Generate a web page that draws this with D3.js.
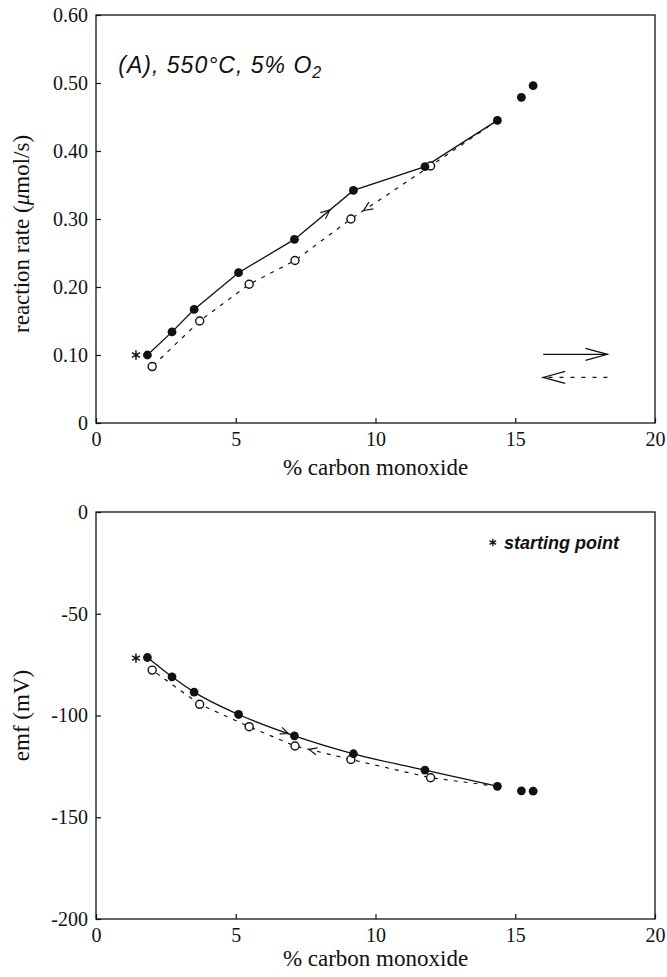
<!DOCTYPE html>
<html>
<head>
<meta charset="utf-8">
<script src="https://cdn.jsdelivr.net/npm/d3@7"></script>
<style>
  body { margin: 0; background: #fff; }
  svg { display: block; }
  .tick text { font-family: "Liberation Serif", "Times New Roman", serif; font-size: 20px; fill: #111; }
  .tick line { stroke: #111; stroke-width: 1.2; }
  .axis-title { font-family: "Liberation Serif", "Times New Roman", serif; font-size: 23px; fill: #111; }
  .note { font-family: "Liberation Sans", Arial, sans-serif; fill: #111; font-style: italic; }
</style>
</head>
<body>
<svg id="chart"></svg>
<script>
// % CO, increasing run (filled points, solid line)
var coUp = [1.84, 2.72, 3.51, 5.1, 7.1, 9.21, 11.77, 14.36];
var rateUp = [0.100, 0.134, 0.167, 0.221, 0.270, 0.342, 0.377, 0.445];
var emfUp = [-71.5, -81, -88.5, -99.5, -110, -118.8, -126.8, -134.8];

// % CO, decreasing run (open points, dashed line), starts from last filled point
var coDown = [11.97, 9.12, 7.12, 5.48, 3.71, 2.01];
var rateDown = [0.378, 0.300, 0.239, 0.204, 0.150, 0.083];
var emfDown = [-130.6, -121.6, -115, -105.5, -94.5, -77.7];

// two unconnected filled points at high CO
var coExtra = [15.22, 15.64];
var rateExtra = [0.479, 0.496];
var emfExtra = [-137, -137.2];

// starting point (asterisk)
var startCo = 1.43;
var startRate = 0.10;
var startEmf = -71.8;

var xTicks = [0, 5, 10, 15, 20];
var rateTicks = [0, 0.1, 0.2, 0.3, 0.4, 0.5, 0.6];
var emfTicks = [0, -50, -100, -150, -200];

var W = 667, H = 977;
var svg = d3.select('#chart').attr('width', W).attr('height', H);

var x = d3.scaleLinear().domain([0, 20]).range([96, 655]);
var yRate = d3.scaleLinear().domain([0, 0.6]).range([423, 15]);
var yEmf = d3.scaleLinear().domain([-200, 0]).range([919, 512]);

var ink = '#111';

function frame(y) {
  var r = y.range();
  svg.append('rect')
    .attr('x', x(0)).attr('y', r[1])
    .attr('width', x(20) - x(0)).attr('height', r[0] - r[1])
    .attr('fill', 'none').attr('stroke', ink).attr('stroke-width', 1.3);
}

function axes(y, yTicks, yFmt) {
  var xa = svg.append('g')
    .attr('transform', 'translate(0,' + y.range()[0] + ')')
    .call(d3.axisBottom(x).tickValues(xTicks).tickSizeInner(-5).tickSizeOuter(0).tickPadding(9).tickFormat(String));
  xa.select('.domain').remove();
  var ya = svg.append('g')
    .attr('transform', 'translate(' + x(0) + ',0)')
    .call(d3.axisLeft(y).tickValues(yTicks).tickSizeInner(-5).tickSizeOuter(0).tickPadding(8).tickFormat(yFmt));
  ya.select('.domain').remove();
}

function arrowHead(tip, ang, len, half) {
  var dx = Math.cos(ang), dy = Math.sin(ang);
  var bx = tip[0] - len * dx, by = tip[1] - len * dy;
  var p = 'M' + (bx - half * dy) + ',' + (by + half * dx) +
          'L' + tip[0] + ',' + tip[1] +
          'L' + (bx + half * dy) + ',' + (by - half * dx);
  svg.append('path').attr('d', p).attr('fill', 'none').attr('stroke', ink).attr('stroke-width', 1.2);
}

// arrow along a data segment, t = fraction from a to b
function segArrow(a, b, t, y, len, half) {
  var pa = [x(a[0]), y(a[1])], pb = [x(b[0]), y(b[1])];
  var tip = [pa[0] + t * (pb[0] - pa[0]), pa[1] + t * (pb[1] - pa[1])];
  arrowHead(tip, Math.atan2(pb[1] - pa[1], pb[0] - pa[0]), len, half);
}

var starSym = d3.symbolAsterisk || d3.symbolCross;

function panel(y, up, down, extra, startVal, curve) {
  var ptsUp = coUp.map(function (c, i) { return [c, up[i]]; });
  var ptsDown = [ptsUp[ptsUp.length - 1]].concat(coDown.map(function (c, i) { return [c, down[i]]; }));
  var line = d3.line().x(function (d) { return x(d[0]); }).y(function (d) { return y(d[1]); });

  svg.append('path').datum(ptsDown)
    .attr('d', line.curve(d3.curveLinear))
    .attr('fill', 'none').attr('stroke', ink).attr('stroke-width', 1.2)
    .attr('stroke-dasharray', '4,6');
  svg.append('path').datum(ptsUp)
    .attr('d', line.curve(curve))
    .attr('fill', 'none').attr('stroke', ink).attr('stroke-width', 1.3);

  svg.append('g').selectAll('circle').data(ptsDown.slice(1)).enter().append('circle')
    .attr('cx', function (d) { return x(d[0]); })
    .attr('cy', function (d) { return y(d[1]); })
    .attr('r', 4).attr('fill', '#fff').attr('stroke', ink).attr('stroke-width', 1.4);

  var filled = ptsUp.concat(coExtra.map(function (c, i) { return [c, extra[i]]; }));
  svg.append('g').selectAll('circle').data(filled).enter().append('circle')
    .attr('cx', function (d) { return x(d[0]); })
    .attr('cy', function (d) { return y(d[1]); })
    .attr('r', 4.4).attr('fill', ink);

  svg.append('path')
    .attr('d', d3.symbol().type(starSym).size(60)())
    .attr('transform', 'translate(' + x(startCo) + ',' + y(startVal) + ')')
    .attr('fill', ink).attr('stroke', ink).attr('stroke-width', 1.5);

  return { up: ptsUp, down: ptsDown };
}

// ---------- top panel: reaction rate ----------
frame(yRate);
axes(yRate, rateTicks, function (d) { return d === 0 ? '0' : d3.format('.2f')(d); });
var ratePts = panel(yRate, rateUp, rateDown, rateExtra, startRate, d3.curveLinear);
segArrow(ratePts.up[4], ratePts.up[5], 0.6, yRate, 9, 4);
segArrow(ratePts.down[1], ratePts.down[2], 0.84, yRate, 9, 4);

// direction legend
svg.append('line')
  .attr('x1', x(16.0)).attr('x2', x(18.3)).attr('y1', yRate(0.101)).attr('y2', yRate(0.101))
  .attr('stroke', ink).attr('stroke-width', 1.2);
arrowHead([x(18.3), yRate(0.101)], 0, 22, 6);
svg.append('line')
  .attr('x1', x(18.3)).attr('x2', x(16.0)).attr('y1', yRate(0.067)).attr('y2', yRate(0.067))
  .attr('stroke', ink).attr('stroke-width', 1.2).attr('stroke-dasharray', '4,7');
arrowHead([x(16.0), yRate(0.067)], Math.PI, 22, 6);

var ttl = svg.append('text').attr('class', 'note')
  .attr('x', x(0.8)).attr('y', yRate(0.514))
  .attr('font-size', 23).attr('letter-spacing', 1);
ttl.append('tspan').text('(A), 550\u00b0C, 5% O');
ttl.append('tspan').attr('font-size', 16).attr('dy', 5).text('2');

svg.append('text').attr('class', 'axis-title')
  .attr('text-anchor', 'middle')
  .attr('transform', 'translate(29,' + yRate(0.278) + ') rotate(-90)')
  .html('reaction rate (<tspan font-style="italic">\u03bc</tspan>mol/s)');

svg.append('text').attr('class', 'axis-title')
  .attr('text-anchor', 'middle')
  .attr('x', (x(0) + x(20)) / 2).attr('y', yRate(0) + 52)
  .text('% carbon monoxide');

// ---------- bottom panel: emf ----------
frame(yEmf);
axes(yEmf, emfTicks, String);
var emfPts = panel(yEmf, emfUp, emfDown, emfExtra, startEmf, d3.curveMonotoneX);
segArrow(emfPts.up[3], emfPts.up[4], 0.89, yEmf, 8, 3.5);
segArrow(emfPts.down[2], emfPts.down[3], 0.75, yEmf, 8, 3.5);

svg.append('path')
  .attr('d', d3.symbol().type(starSym).size(40)())
  .attr('transform', 'translate(' + x(14.2) + ',' + yEmf(-15) + ')')
  .attr('fill', ink).attr('stroke', ink).attr('stroke-width', 1.3);
svg.append('text').attr('class', 'note')
  .attr('x', x(14.6)).attr('y', yEmf(-15) + 6)
  .attr('font-size', 18).attr('font-weight', 'bold')
  .text('starting point');

svg.append('text').attr('class', 'axis-title')
  .attr('text-anchor', 'middle')
  .attr('transform', 'translate(29,' + yEmf(-100) + ') rotate(-90)')
  .text('emf (mV)');

svg.append('text').attr('class', 'axis-title')
  .attr('text-anchor', 'middle')
  .attr('x', (x(0) + x(20)) / 2).attr('y', yEmf(-200) + 47)
  .text('% carbon monoxide');
</script>
</body>
</html>
